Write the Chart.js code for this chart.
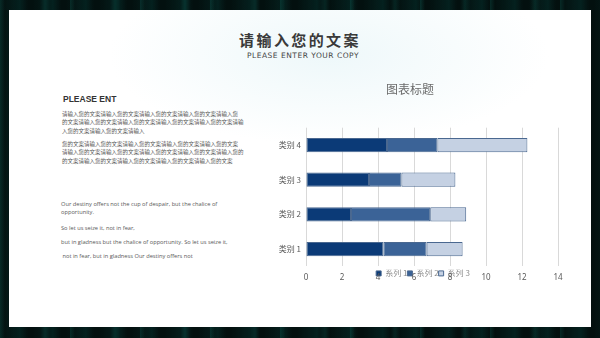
<!DOCTYPE html>
<html>
<head>
<meta charset="utf-8">
<script src="https://cdn.jsdelivr.net/npm/chart.js@4.4.1/dist/chart.umd.min.js"></script>
<style>
  html, body { margin: 0; padding: 0; }
  body {
    width: 600px; height: 338px; overflow: hidden; position: relative;
    background-color: #03100f;
    background-image:
      linear-gradient(90deg, rgba(20,110,100,0.28) 0px, transparent 5px, transparent 40px, rgba(20,120,110,0.2) 45px, transparent 50px),
      linear-gradient(90deg, transparent 0px, rgba(10,90,85,0.22) 20px, transparent 28px);
    background-size: 70px 100%, 33px 100%;
  }
  .panel {
    position: absolute; left: 9px; top: 10px; width: 582px; height: 317px;
    background: radial-gradient(ellipse 220px 90px at 320px 45px, #eef8fa 0%, #ffffff 100%);
  }
  .abs { position: absolute; white-space: nowrap; }
  #mainTitle {
    left: 0; width: 600px; top: 30px; text-align: center;
    font-family: "Noto Sans CJK SC", sans-serif; font-weight: bold;
    font-size: 15px; letter-spacing: 2.4px; color: #3a3a3a; line-height: 20px;
  }
  #subTitle {
    left: 0; width: 606px; top: 51px; text-align: center;
    font-family: "DejaVu Sans", sans-serif; font-size: 7.5px; letter-spacing: 0.5px;
    color: #454545; line-height: 10px;
  }
  #leftHead {
    left: 63px; top: 93px; font-family: "Liberation Sans", sans-serif; font-weight: bold;
    font-size: 8.5px; color: #333; line-height: 12px;
  }
  .cn {
    left: 62px; font-family: "Noto Sans CJK SC", sans-serif; font-size: 5.5px;
    line-height: 8.4px; color: #555;
  }
  .en {
    left: 61px; font-family: "Open Sans", sans-serif; font-size: 5.7px;
    line-height: 8px; color: #595959;
  }
  #chartBox { position: absolute; left: 262px; top: 74px; width: 316px; height: 234px; }
</style>
</head>
<body>
<div class="panel"></div>
<div class="abs" id="mainTitle">请输入您的文案</div>
<div class="abs" id="subTitle">PLEASE ENTER YOUR COPY</div>
<div class="abs" id="leftHead">PLEASE ENT</div>
<div class="abs cn" style="top:110px">请输入您的文案请输入您的文案请输入您的文案请输入您的文案请输入您<br>的文案请输入您的文案请输入您的文案请输入您的文案请输入您的文案请输<br>入您的文案请输入您的文案请输入</div>
<div class="abs cn" style="top:140px">您的文案请输入您的文案请输入您的文案请输入您的文案请输入您的文案<br>请输入您的文案请输入您的文案请输入您的文案请输入您的文案请输入您的<br>的文案请输入您的文案请输入您的文案请输入您的文案请输入您的文案</div>
<div class="abs en" style="top:200px">Our destiny offers not the cup of despair, but the chalice of<br>opportunity.</div>
<div class="abs en" style="top:223.5px">So let us seize it, not in fear,</div>
<div class="abs en" style="top:237.5px">but in gladness but the chalice of opportunity. So let us seize it,</div>
<div class="abs en" style="top:252px">&nbsp;not in fear, but in gladness Our destiny offers not</div>
<div id="chartBox"><canvas id="barChart"></canvas></div>

<script>
const categories = ["类别 1", "类别 2", "类别 3", "类别 4"];
const seriesNames = ["系列 1", "系列 2", "系列 3"];
const series1 = [4.3, 2.5, 3.5, 4.5];
const series2 = [2.4, 4.4, 1.8, 2.8];
const series3 = [2.0, 2.0, 3.0, 5.0];
const xTicks = [0, 2, 4, 6, 8, 10, 12, 14];

const fills = ["#0b3a77", "#3b6397", "#c5d1e3"];
const edge = "#4a6890";

// legend sits over the x tick labels in the original, so pull it up after layout
const legendOverlap = {
  id: "legendOverlap",
  afterLayout(chart) {
    const lg = chart.legend;
    if (!lg) return;
    const h = lg.bottom - lg.top;
    lg.top = chart.chartArea.bottom + 3;
    lg.bottom = lg.top + h;
    lg.left += 13;
    lg.right += 13;
  }
};

const canvas = document.getElementById("barChart");
new Chart(canvas, {
  type: "bar",
  data: {
    labels: categories,
    datasets: [series1, series2, series3].map((d, i) => ({
      label: seriesNames[i],
      data: d,
      backgroundColor: fills[i],
      borderColor: edge,
      borderWidth: 1,
      borderSkipped: false,
      categoryPercentage: 1,
      barPercentage: 0.41
    }))
  },
  options: {
    indexAxis: "y",
    responsive: true,
    maintainAspectRatio: false,
    animation: false,
    layout: { padding: { right: 20, bottom: 0 } },
    plugins: {
      title: {
        display: true,
        text: "图表标题",
        color: "#6b6b6b",
        font: { family: "Noto Sans CJK SC", size: 12, weight: "normal" },
        padding: { top: 7.8, bottom: 31.5 }
      },
      legend: {
        position: "bottom",
        labels: {
          color: "#8c8c8c",
          font: { family: "Noto Sans CJK SC", size: 8 },
          boxWidth: 5,
          boxHeight: 5,
          padding: 0
        }
      },
      tooltip: { enabled: false }
    },
    scales: {
      x: {
        stacked: true,
        min: 0,
        max: 14,
        afterBuildTicks: axis => { axis.ticks = xTicks.map(v => ({ value: v })); },
        grid: { color: "#d9d9d9", drawTicks: false },
        border: { display: false },
        ticks: { color: "#595959", font: { family: "Noto Sans", size: 8 }, padding: 7 }
      },
      y: {
        stacked: true,
        reverse: true,
        afterFit: scale => { scale.width = 44; },
        grid: { display: false, drawTicks: false },
        border: { display: false },
        ticks: { color: "#595959", font: { family: "Noto Sans CJK SC", size: 8 }, padding: 5 }
      }
    }
  },
  plugins: [legendOverlap]
});
</script>
</body>
</html>
